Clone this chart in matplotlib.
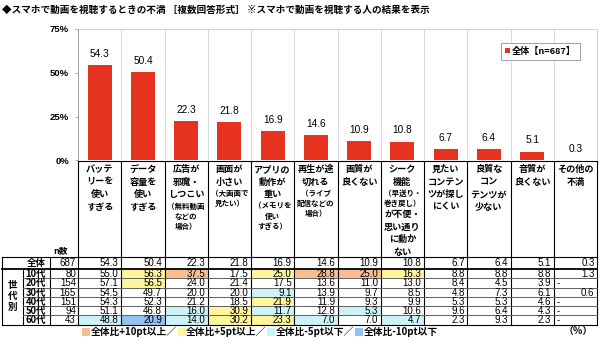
#!/usr/bin/env python3
# -*- coding: utf-8 -*-
import matplotlib
matplotlib.use('Agg')
import matplotlib.pyplot as plt
from matplotlib.patches import Rectangle

plt.rcParams['font.family'] = ['Noto Sans CJK JP', 'DejaVu Sans']

title = '◆スマホで動画を視聴するときの不満 ［複数回答形式］ ※スマホで動画を視聴する人の結果を表示'
series_label = '全体【n=687】'

categories = [
    'バッテ\nリーを\n使い\nすぎる',
    'データ\n容量を\n使い\nすぎる',
    '広告が\n邪魔・\nしつこい\n（無料動画\nなどの\n場合）',
    '画面が\n小さい\n（大画面で\n見たい）',
    'アプリの\n動作が\n重い\n（メモリを\n使い\nすぎる）',
    '再生が途\n切れる\n（ライブ\n配信などの\n場合）',
    '画質が\n良くない',
    'シーク\n機能\n（早送り・\n巻き戻し）\nが不便・\n思い通り\nに動か\nない',
    '見たい\nコンテン\nツが探し\nにくい',
    '良質な\nコン\nテンツが\n少ない',
    '音質が\n良くない',
    'その他の\n不満',
]

overall = [54.3, 50.4, 22.3, 21.8, 16.9, 14.6, 10.9, 10.8, 6.7, 6.4, 5.1, 0.3]
n_total = 687

ages = ['10代', '20代', '30代', '40代', '50代', '60代']
n_age = [80, 154, 165, 151, 94, 43]
age_10s = [55.0, 56.3, 37.5, 17.5, 25.0, 28.8, 25.0, 16.3, 8.8, 8.8, 8.8, 1.3]
age_20s = [57.1, 56.5, 24.0, 21.4, 17.5, 13.6, 11.0, 13.0, 8.4, 4.5, 3.9, None]
age_30s = [54.5, 49.7, 20.0, 20.0, 9.1, 13.9, 9.7, 8.5, 4.8, 7.3, 6.1, 0.6]
age_40s = [54.3, 52.3, 21.2, 18.5, 21.9, 11.9, 9.3, 9.9, 5.3, 5.3, 4.6, None]
age_50s = [51.1, 46.8, 16.0, 30.9, 11.7, 12.8, 5.3, 10.6, 9.6, 6.4, 4.3, None]
age_60s = [48.8, 20.9, 14.0, 30.2, 23.3, 7.0, 7.0, 4.7, 2.3, 9.3, 2.3, None]
age_values = [age_10s, age_20s, age_30s, age_40s, age_50s, age_60s]

yticks = [0, 25, 50, 75]
hl_labels = ['全体比+10pt以上／', '全体比+5pt以上／', '全体比-5pt以下／', '全体比-10pt以下']


def highlight_color(v, ref, colors):
    if v is None:
        return None
    d = round(v - ref, 1)
    if d >= 10:
        return colors[0]
    if d >= 5:
        return colors[1]
    if d <= -10:
        return colors[3]
    if d <= -5:
        return colors[2]
    return None


def plot_dissatisfaction(figsize=[6.0, 3.57],
                         dpi=100,
                         bar_color='#E63320',
                         hl_colors=('#F8BE90', '#FFF59B', '#CDF3F8', '#94C2EE'),
                         col_x0=78,
                         col_w=43.25,
                         chart_top=29,
                         chart_bottom=160.5,
                         header_bottom=257,
                         total_bottom=269,
                         row_h=9.25,
                         save_fig='out.png'):
    fig = plt.figure(figsize=figsize, dpi=dpi)
    W, H = 600, 357
    ncol = len(overall)
    x_right = col_x0 + ncol * col_w

    # pixel overlay for title / table
    tab = fig.add_axes([0, 0, 1, 1])
    tab.set_xlim(0, W)
    tab.set_ylim(H, 0)
    tab.axis('off')

    tab.text(2, 10, title, fontsize=6.9, fontweight='bold', va='center', ha='left')

    # bar chart
    ax = fig.add_axes([col_x0 / W, 1 - chart_bottom / H,
                       (x_right - col_x0) / W, (chart_bottom - chart_top) / H])
    xs = list(range(ncol))
    bars = ax.bar(xs, overall, width=0.555, color=bar_color, label=series_label, zorder=3)
    for b, v in zip(bars, overall):
        ax.annotate('{:.1f}'.format(v), (b.get_x() + b.get_width() / 2, v),
                    xytext=(0, 4.5), textcoords='offset points',
                    ha='center', va='bottom', fontsize=7.3, family='Liberation Sans')
    ax.set_xlim(-0.5, ncol - 0.5)
    ax.set_ylim(0, 75)
    ax.set_xticks([])
    ax.set_yticks(yticks)
    ax.set_yticklabels(['{}%'.format(t) for t in yticks], fontsize=6.8,
                       fontweight='bold', family='Liberation Sans')
    ax.tick_params(axis='y', length=2.5, width=0.6, color='#A0A0A0', pad=4)
    for i in range(ncol - 1):
        ax.axvline(i + 0.5, color='#DADADA', lw=0.7, zorder=1)
    for s in ['top', 'right']:
        ax.spines[s].set_color('#D0D0D0')
        ax.spines[s].set_linewidth(0.7)
    ax.spines['left'].set_color('#A0A0A0')
    ax.spines['left'].set_linewidth(0.7)
    ax.spines['bottom'].set_visible(False)
    leg = ax.legend(loc='upper right', bbox_to_anchor=(585 / W, 1 - 38 / H),
                    bbox_transform=fig.transFigure,
                    prop={'weight': 'bold', 'size': 6.6},
                    handlelength=0.45, handleheight=0.45, handletextpad=0.3,
                    borderpad=0.45, fancybox=False, edgecolor='#A0A0A0', framealpha=1)
    leg.get_frame().set_linewidth(0.7)

    # header labels
    for k, lab in enumerate(categories):
        cx = col_x0 + (k + 0.5) * col_w
        y = 163.5
        small = False
        prev_h = None
        for line in lab.split('\n'):
            if line.startswith('（'):
                small = True
            h = 10.0 if small else 12.5
            if prev_h is not None:
                y += (prev_h + h) / 2
            else:
                y += h / 2
            tab.text(cx, y, line, fontsize=5.4 if small else 6.6, fontweight='bold',
                     ha='center', va='center')
            prev_h = h
            if line.endswith('）'):
                small = False

    tab.text(60, 251, 'n数', fontsize=6.3, fontweight='bold', ha='center', va='center')

    # table rows
    row_tops = [header_bottom, total_bottom] + [total_bottom + (i + 1) * row_h for i in range(len(ages))]
    rows = [(None, '全体', n_total, overall)] + [(a, a, n, v) for a, n, v in zip(ages, n_age, age_values)]
    num_font = dict(fontsize=7.0, family='Liberation Sans', va='center')
    for r, (age, lab, n, vals) in enumerate(rows):
        y0, y1 = row_tops[r], row_tops[r + 1]
        yc = (y0 + y1) / 2 + 0.4
        tab.text(46, yc, lab, fontsize=6.8, fontweight='bold', ha='right', va='center')
        tab.text(76, yc, str(n), ha='right', **num_font)
        for k, v in enumerate(vals):
            xl = col_x0 + k * col_w
            c = highlight_color(v, overall[k], hl_colors) if age else None
            if c:
                tab.add_patch(Rectangle((xl, y0), col_w, y1 - y0, color=c, lw=0, zorder=0))
            if v is None:
                tab.text(xl + 3, yc, '-', ha='left', **num_font)
            else:
                tab.text(xl + col_w - 2.5, yc, '{:.1f}'.format(v), ha='right', **num_font)

    for i, ch in enumerate('世代別'):
        tab.text(12.5, 285 + i * 11, ch, fontsize=6.9, fontweight='bold', ha='center', va='center')

    # grid lines
    lk = dict(color='black', lw=0.8, zorder=2)
    bottom = row_tops[-1]
    tab.plot([col_x0, x_right], [chart_bottom + 0.5, chart_bottom + 0.5], **lk)
    for k in range(ncol + 1):
        x = col_x0 + k * col_w
        tab.plot([x, x], [chart_bottom + 0.5, bottom], **lk)
    tab.plot([2, 2], [header_bottom, bottom], **lk)
    tab.plot([50, 50], [header_bottom, bottom], **lk)
    tab.plot([23, 23], [total_bottom, bottom], **lk)
    tab.plot([2, x_right], [header_bottom, header_bottom], **lk)
    tab.plot([2, x_right], [total_bottom, total_bottom], color='black', lw=1.3, zorder=2)
    for y in row_tops[2:-1]:
        tab.plot([23, x_right], [y, y], color='#606060', lw=0.7, zorder=2)
    tab.plot([2, x_right], [bottom, bottom], **lk)

    # highlight legend row
    renderer = fig.canvas.get_renderer()
    x = 82
    for c, lab in zip(hl_colors, hl_labels):
        tab.add_patch(Rectangle((x, 327.5), 8, 8, color=c, lw=0))
        t = tab.text(x + 8.5, 331.5, lab, fontsize=7.0, fontweight='bold', ha='left', va='center')
        bb = t.get_window_extent(renderer)
        x = x + 8.5 + bb.width + 1
    tab.text(593, 331.5, '（％）', fontsize=7.0, fontweight='bold', ha='right', va='center')

    if isinstance(save_fig, str):
        plt.savefig(save_fig, dpi=dpi)
        print('Save figure to {}'.format(save_fig))

    return fig


plot_dissatisfaction()
